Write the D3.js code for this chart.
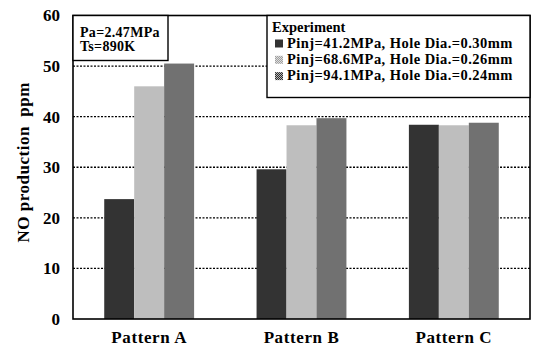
<!DOCTYPE html>
<html>
<head>
<meta charset="utf-8">
<script src="https://cdn.jsdelivr.net/npm/d3@7"></script>
<style>
  body { margin: 0; background: #fff; }
  svg, svg text { font-family: "Liberation Serif", "Times New Roman", serif; font-weight: bold; }
  .tick text { font-size: 17px; fill: #000; }
</style>
</head>
<body>
<div id="chart"></div>
<script>
const patterns = ['Pattern A', 'Pattern B', 'Pattern C'];
const seriesLabels = [
  'Pinj=41.2MPa, Hole Dia.=0.30mm',
  'Pinj=68.6MPa, Hole Dia.=0.26mm',
  'Pinj=94.1MPa, Hole Dia.=0.24mm'
];
const pinj41 = [23.7, 29.6, 38.4];
const pinj68 = [46.0, 38.3, 38.3];
const pinj94 = [50.5, 39.7, 38.8];
const yTicks = [0, 10, 20, 30, 40, 50, 60];
const conditions = ['Pa=2.47MPa', 'Ts=890K'];

const series = [pinj41, pinj68, pinj94];

const width = 533, height = 350;
const margin = {top: 15.5, right: 3, bottom: 31, left: 73};
const gWidth = width - margin.left - margin.right;
const gHeight = height - margin.top - margin.bottom;

const svg = d3.select('#chart').append('svg')
  .attr('width', width)
  .attr('height', height);

// halftone fills (2x2 checkers)
const defs = svg.append('defs');
const addChecker = (id, dark, light) => {
  const p = defs.append('pattern')
    .attr('id', id)
    .attr('width', 2).attr('height', 2)
    .attr('patternUnits', 'userSpaceOnUse');
  p.append('rect').attr('width', 2).attr('height', 2).attr('fill', light);
  p.append('rect').attr('width', 1).attr('height', 1).attr('fill', dark);
  p.append('rect').attr('x', 1).attr('y', 1).attr('width', 1).attr('height', 1).attr('fill', dark);
};
addChecker('fill0', '#000', '#666');
addChecker('fill1', '#8a8a8a', '#f2f2f2');
addChecker('fill2', '#1a1a1a', '#c8c8c8');

const g = svg.append('g').attr('transform', `translate(${margin.left},${margin.top})`);

const x0 = d3.scaleBand()
  .domain(patterns)
  .range([0, gWidth])
  .paddingInner(0.41)
  .paddingOuter(0.205);
const x1 = d3.scaleBand()
  .domain(d3.range(series.length))
  .range([0, x0.bandwidth()]);
const y = d3.scaleLinear().domain([0, 60]).range([gHeight, 0]);

// grid lines
g.append('g')
  .selectAll('line')
  .data(yTicks.slice(1, -1))
  .join('line')
    .attr('x1', 0).attr('x2', gWidth)
    .attr('y1', y).attr('y2', y)
    .attr('stroke', '#000')
    .attr('stroke-width', 1.4)
    .attr('stroke-dasharray', '2,1.5');

// bars
patterns.forEach((p, i) => {
  g.append('g')
    .attr('transform', `translate(${x0(p)},0)`)
    .selectAll('rect')
    .data(series.map(s => s[i]))
    .join('rect')
      .attr('x', (_, j) => x1(j))
      .attr('y', d => y(d))
      .attr('width', x1.bandwidth())
      .attr('height', d => gHeight - y(d))
      .attr('fill', (_, j) => `url(#fill${j})`);
});

// frame
g.append('rect')
  .attr('width', gWidth).attr('height', gHeight)
  .attr('fill', 'none').attr('stroke', '#000').attr('stroke-width', 1.6);

// axes
const yAxis = g.append('g')
  .call(d3.axisLeft(y).tickValues(yTicks).tickSize(0).tickPadding(13));
yAxis.attr('font-family', null).attr('font-size', null);
yAxis.select('.domain').remove();

const xAxis = g.append('g')
  .attr('transform', `translate(0,${gHeight})`)
  .call(d3.axisBottom(x0).tickSize(0).tickPadding(12));
xAxis.attr('font-family', null).attr('font-size', null);
xAxis.select('.domain').remove();
xAxis.selectAll('text').style('font-size', '17px').attr('letter-spacing', '0.6px');

// y title
svg.append('text')
  .attr('transform', `translate(29,${margin.top + y(30) - 5}) rotate(-90)`)
  .attr('text-anchor', 'middle')
  .style('font-size', '17px')
  .attr('letter-spacing', '0.5px')
  .attr('xml:space', 'preserve')
  .text('NO production  ppm');

// condition box
const cond = g.append('g');
cond.append('rect')
  .attr('x', 0).attr('y', 0)
  .attr('width', 95).attr('height', 45)
  .attr('fill', '#fff').attr('stroke', '#000').attr('stroke-width', 1.4);
cond.selectAll('text')
  .data(conditions)
  .join('text')
    .attr('x', 7)
    .attr('y', (_, i) => 21 + i * 14)
    .style('font-size', '14px')
    .attr('letter-spacing', '0.3px')
    .text(d => d);

// legend
const legend = g.append('g').attr('transform', `translate(${267 - margin.left},0)`);
legend.append('rect')
  .attr('width', gWidth - (267 - margin.left)).attr('height', 82)
  .attr('fill', '#fff').attr('stroke', '#000').attr('stroke-width', 1.4);
legend.append('text')
  .attr('x', 5).attr('y', 16)
  .style('font-size', '14.5px')
  .text('Experiment');
const items = legend.selectAll('g.item')
  .data(seriesLabels)
  .join('g')
    .attr('class', 'item')
    .attr('transform', (_, i) => `translate(0,${32 + i * 16.3})`);
items.append('rect')
  .attr('x', 8).attr('y', -8)
  .attr('width', 8).attr('height', 8)
  .attr('fill', (_, i) => `url(#fill${i})`);
items.append('text')
  .attr('x', 20)
  .style('font-size', '14.5px')
  .attr('letter-spacing', '0.45px')
  .text(d => d);
</script>
</body>
</html>
